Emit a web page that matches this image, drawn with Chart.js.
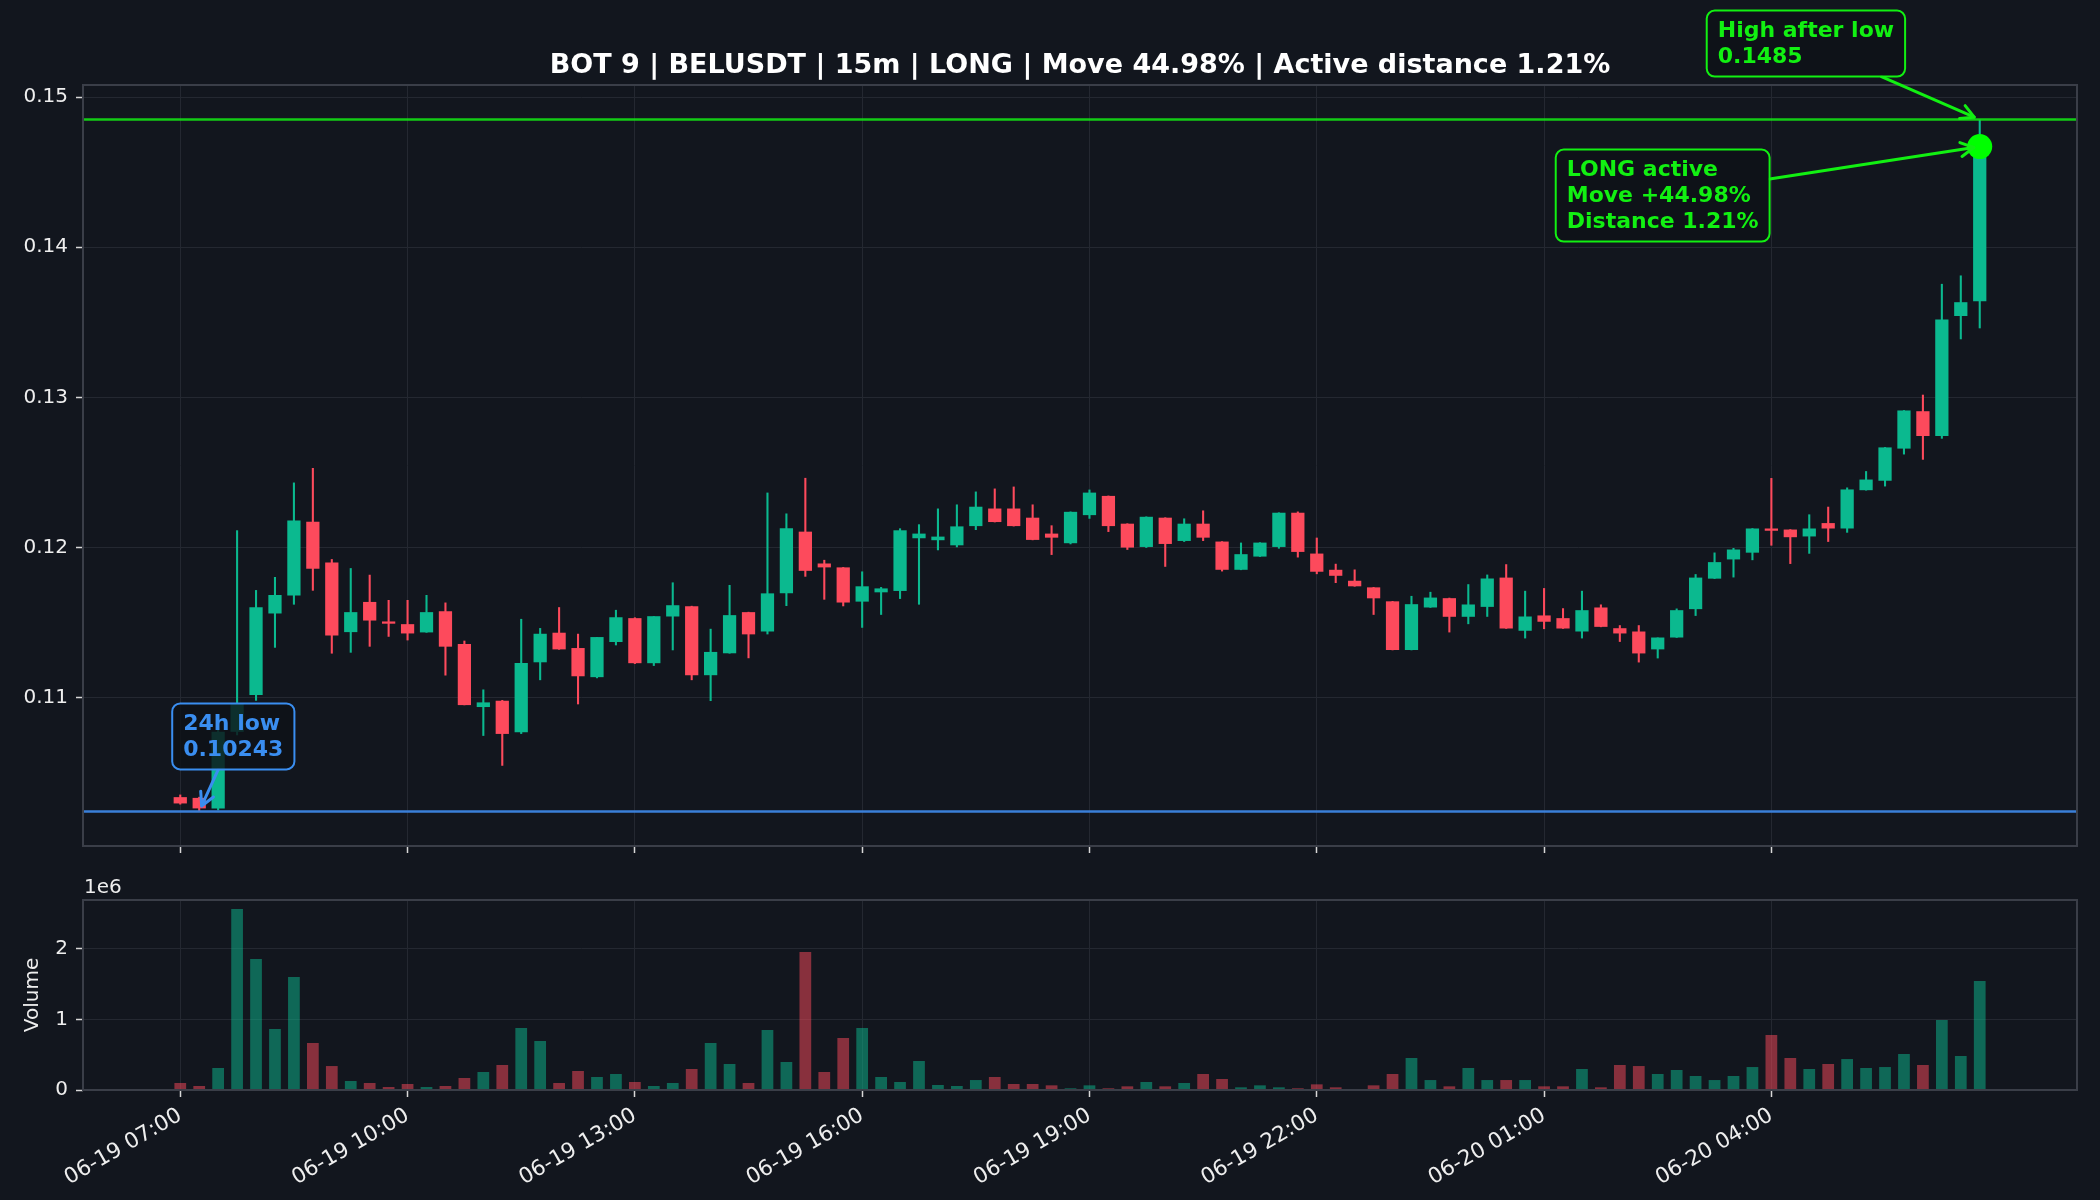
<!DOCTYPE html>
<html><head><meta charset="utf-8">
<script src="https://cdn.jsdelivr.net/npm/chart.js@4.4.1/dist/chart.umd.min.js"></script>
<style>
html,body{margin:0;padding:0;background:#12161e;}
#wrap{position:relative;width:2100px;height:1200px;background:#12161e;overflow:hidden;}
#c1{position:absolute;left:0;top:0;width:2100px;height:870px;}
#c2{position:absolute;left:0;top:860px;width:2100px;height:340px;}
</style></head><body>
<div id="wrap"><canvas id="c1" width="2100" height="870"></canvas><canvas id="c2" width="2100" height="340"></canvas></div>
<script>
// ---------------- data ----------------
const TITLE = "BOT 9 | BELUSDT | 15m | LONG | Move 44.98% | Active distance 1.21%";
const tickIndex = [0, 12, 24, 36, 48, 60, 72, 84];
const timeLabels = ["06-19 07:00","06-19 10:00","06-19 13:00","06-19 16:00","06-19 19:00","06-19 22:00","06-20 01:00","06-20 04:00"];
const priceTicks = [0.11, 0.12, 0.13, 0.14, 0.15];
const priceTickLabels = ["0.11","0.12","0.13","0.14","0.15"];
const volTicks = [0, 1e6, 2e6];
const volTickLabels = ["0","1","2"];
const lowLevel = 0.10243;
const highLevel = 0.1485;
const lowText = ["24h low", "0.10243"];
const highText = ["High after low", "0.1485"];
const activeText = ["LONG active", "Move +44.98%", "Distance 1.21%"];

const opens = [0.10338,0.10333,0.10263,0.10773,0.11018,0.11561,0.11680,0.12172,0.11901,0.11437,
0.11638,0.11508,0.11490,0.11435,0.11576,0.11358,0.10938,0.10980,0.10770,0.11236,
0.11433,0.11331,0.11137,0.11371,0.11530,0.11230,0.11541,0.11610,0.11150,0.11296,
0.11570,0.11441,0.11695,0.12106,0.11894,0.11868,0.11640,0.11702,0.11711,0.12062,
0.12049,0.12015,0.12143,0.12260,0.12260,0.12199,0.12093,0.12029,0.12216,0.12344,
0.12159,0.12004,0.12199,0.12044,0.12159,0.12040,0.11852,0.11940,0.12004,0.12232,
0.11960,0.11852,0.11779,0.11735,0.11642,0.11318,0.11601,0.11663,0.11539,0.11605,
0.11800,0.11446,0.11548,0.11530,0.11441,0.11601,0.11463,0.11441,0.11322,0.11401,
0.11590,0.11793,0.11921,0.11966,0.12127,0.12120,0.12074,0.12163,0.12127,0.12382,
0.12445,0.12659,0.12908,0.12743,0.13542,0.13641];
const highs = [0.10355,0.10340,0.10800,0.12115,0.11717,0.11804,0.12433,0.12530,0.11923,0.11863,
0.11819,0.11651,0.11651,0.11684,0.11634,0.11380,0.11055,0.10985,0.11525,0.11464,
0.11603,0.11426,0.11404,0.11585,0.11535,0.11543,0.11768,0.11612,0.11459,0.11751,
0.11572,0.12366,0.12227,0.12464,0.11918,0.11870,0.11841,0.11737,0.12128,0.12155,
0.12260,0.12287,0.12373,0.12393,0.12406,0.12287,0.12148,0.12240,0.12386,0.12346,
0.12161,0.12207,0.12201,0.12194,0.12247,0.12042,0.12033,0.12035,0.12234,0.12240,
0.12066,0.11892,0.11854,0.11737,0.11644,0.11678,0.11705,0.11666,0.11756,0.11820,
0.11889,0.11712,0.11730,0.11596,0.11712,0.11621,0.11483,0.11483,0.11401,0.11594,
0.11823,0.11967,0.11997,0.12129,0.12463,0.12122,0.12221,0.12272,0.12400,0.12509,
0.12669,0.12915,0.13018,0.13756,0.13812,0.14850];
const lows = [0.10289,0.10243,0.10250,0.10750,0.10980,0.11333,0.11620,0.11713,0.11294,0.11300,
0.11340,0.11406,0.11382,0.11433,0.11148,0.10950,0.10746,0.10547,0.10759,0.11117,
0.11320,0.10956,0.11130,0.11349,0.11225,0.11212,0.11316,0.11117,0.10978,0.11294,
0.11263,0.11422,0.11611,0.11806,0.11653,0.11609,0.11466,0.11552,0.11658,0.11620,
0.11982,0.12002,0.12117,0.12168,0.12141,0.12049,0.11951,0.12022,0.12192,0.12104,
0.11985,0.11998,0.11872,0.12038,0.12044,0.11841,0.11850,0.11938,0.11993,0.11934,
0.11823,0.11764,0.11740,0.11552,0.11316,0.11316,0.11599,0.11435,0.11490,0.11539,
0.11459,0.11395,0.11457,0.11459,0.11395,0.11470,0.11372,0.11235,0.11262,0.11399,
0.11545,0.11791,0.11801,0.11916,0.12013,0.11891,0.11959,0.12038,0.12099,0.12380,
0.12407,0.12620,0.12585,0.12725,0.13387,0.13460];
const closes = [0.10296,0.10263,0.10773,0.10960,0.11603,0.11684,0.12181,0.11859,0.11415,0.11570,
0.11514,0.11493,0.11428,0.11570,0.11340,0.10951,0.10969,0.10759,0.11232,0.11426,
0.11322,0.11143,0.11404,0.11536,0.11230,0.11543,0.11616,0.11150,0.11305,0.11550,
0.11422,0.11695,0.12128,0.11845,0.11868,0.11634,0.11742,0.11728,0.12115,0.12093,
0.12073,0.12141,0.12272,0.12170,0.12143,0.12051,0.12066,0.12238,0.12366,0.12143,
0.12000,0.12205,0.12024,0.12159,0.12066,0.11852,0.11956,0.12033,0.12232,0.11971,
0.11839,0.11812,0.11742,0.11662,0.11318,0.11623,0.11667,0.11539,0.11621,0.11794,
0.11461,0.11541,0.11506,0.11461,0.11583,0.11472,0.11428,0.11295,0.11401,0.11583,
0.11800,0.11903,0.11987,0.12127,0.12112,0.12069,0.12127,0.12127,0.12387,0.12453,
0.12667,0.12913,0.12743,0.13519,0.13634,0.14670];
const volumes = [99000,57000,311000,2560000,1853000,863000,1598000,665000,339000,127000,
99000,42000,85000,42000,57000,170000,255000,354000,877000,693000,
99000,269000,184000,226000,113000,57000,99000,297000,665000,368000,
99000,849000,396000,1952000,255000,736000,877000,184000,113000,410000,
71000,57000,141000,184000,85000,85000,66000,24000,66000,24000,
52000,113000,52000,99000,226000,156000,38000,66000,38000,24000,
80000,38000,6000,66000,226000,453000,141000,52000,311000,141000,
141000,141000,52000,52000,297000,38000,354000,339000,226000,283000,
198000,141000,198000,325000,778000,453000,297000,368000,438000,311000,
325000,509000,354000,990000,481000,1542000];

// ---------------- styling ----------------
const FONT = '"DejaVu Sans", "Liberation Sans", sans-serif';
const UP = '#0bb98f', DOWN = '#fd4a5c';
const UP_VOL = 'rgba(11,185,143,0.5)', DOWN_VOL = 'rgba(253,74,92,0.5)';
const GRID = '#242831', SPINE = '#3a3e48', TICKC = '#d8d8d8', TXT = '#eeeeee';
const BLUE = '#3a8ef0', BLUE_LINE = '#3a7fd8', GREEN = '#12f012', GREEN_LINE = 'rgba(20,235,20,0.85)';

const idx = opens.map((_, i) => i);
const up = idx.map(i => closes[i] >= opens[i]);
const nLast = opens.length - 1;
const halfBody = 0.35;
const span = (nLast + halfBody) - (-halfBody);
const xMin = -halfBody - 0.05 * span, xMax = nLast + halfBody + 0.05 * span;
const pMin = Math.min(...lows), pMax = Math.max(...highs);
const yMin = pMin - 0.05 * (pMax - pMin), yMax = pMax + 0.05 * (pMax - pMin);
const vMax = Math.max(...volumes) * 1.05;
const lowIdx = lows.indexOf(pMin), highIdx = highs.indexOf(pMax);

const tickFont = {family: FONT, size: 20};
const xTickFont = {family: FONT, size: 21.5};

const framePlugin = {
  id: 'frame',
  afterDraw(chart) {
    const {ctx, chartArea: a} = chart;
    ctx.save(); ctx.strokeStyle = SPINE; ctx.lineWidth = 2;
    ctx.strokeRect(a.left, a.top, a.right - a.left, a.bottom - a.top);
    ctx.restore();
  }
};

const levelPlugin = {
  id: 'levels',
  afterDatasetsDraw(chart) {
    const {ctx, chartArea: a, scales: {y}} = chart;
    ctx.save();
    ctx.lineWidth = 2.5;
    [[highLevel, GREEN_LINE], [lowLevel, BLUE_LINE]].forEach(([v, col]) => {
      const py = y.getPixelForValue(v);
      ctx.strokeStyle = col; ctx.beginPath(); ctx.moveTo(a.left, py); ctx.lineTo(a.right, py); ctx.stroke();
    });
    ctx.restore();
  }
};

function drawAnnotation(ctx, lines, color, tx, ty, dx, dy) {
  const font = 'bold 22px ' + FONT, lineH = 26, padX = 11, padY = 7;
  ctx.save();
  ctx.font = font;
  const w = Math.max(...lines.map(l => ctx.measureText(l).width)) + 2 * padX;
  const h = lines.length * lineH + 2 * padY;
  const bx = tx + dx, by = ty + dy;
  // arrow from box centre towards target, clipped at box edge
  const cx = bx + w / 2, cy = by + h / 2;
  const vx = tx - cx, vy = ty - cy;
  const tEdge = Math.min(Math.abs((w / 2) / (vx || 1e-9)), Math.abs((h / 2) / (vy || 1e-9)));
  const sx = cx + vx * tEdge, sy = cy + vy * tEdge;
  const len = Math.hypot(tx - sx, ty - sy);
  const ux = (tx - sx) / len, uy = (ty - sy) / len;
  const ex = tx - ux * 6, ey = ty - uy * 6;
  ctx.strokeStyle = color; ctx.lineWidth = 3; ctx.lineCap = 'round'; ctx.lineJoin = 'round';
  ctx.beginPath(); ctx.moveTo(sx, sy); ctx.lineTo(ex, ey); ctx.stroke();
  const hl = 13, hw = 7;
  ctx.beginPath();
  ctx.moveTo(ex - ux * hl - uy * hw, ey - uy * hl + ux * hw);
  ctx.lineTo(ex, ey);
  ctx.lineTo(ex - ux * hl + uy * hw, ey - uy * hl - ux * hw);
  ctx.stroke();
  // box
  ctx.fillStyle = 'rgba(14,17,23,0.82)';
  ctx.lineWidth = 2;
  ctx.beginPath(); ctx.roundRect(bx, by, w, h, 8); ctx.fill(); ctx.stroke();
  ctx.fillStyle = color; ctx.textAlign = 'left'; ctx.textBaseline = 'middle';
  lines.forEach((l, k) => ctx.fillText(l, bx + padX, by + padY + lineH * (k + 0.5) + 1));
  ctx.restore();
}

const annotPlugin = {
  id: 'annot',
  afterDraw(chart) {
    const {ctx, scales: {x, y}} = chart;
    const lx = x.getPixelForValue(lowIdx), ly = y.getPixelForValue(lowLevel);
    drawAnnotation(ctx, lowText, BLUE, lx, ly, -27, -108);
    const hx = x.getPixelForValue(highIdx), hy = y.getPixelForValue(highLevel);
    drawAnnotation(ctx, highText, GREEN, hx, hy, -273, -109);
    const cy = y.getPixelForValue(closes[nLast]);
    drawAnnotation(ctx, activeText, GREEN, hx, cy, -424, 3);
  }
};

const xScaleBase = {
  type: 'linear', min: xMin, max: xMax, offset: false,
  afterBuildTicks: s => { s.ticks = tickIndex.map(v => ({value: v})); },
  grid: {color: GRID, lineWidth: 1, offset: false, tickColor: TICKC, tickLength: 7, tickWidth: 1.5},
  border: {display: false}
};

new Chart(document.getElementById('c1'), {
  type: 'bar',
  data: {
    datasets: [
      {type: 'line', data: [{x: nLast, y: closes[nLast]}], showLine: false, pointRadius: 12.5,
       pointBackgroundColor: '#00ff00', pointBorderWidth: 0, order: 0},
      {data: idx.map(i => ({x: i, y: [opens[i], closes[i]]})), backgroundColor: idx.map(i => up[i] ? UP : DOWN),
       grouped: false, barPercentage: 0.7, categoryPercentage: 1, borderWidth: 0, minBarLength: 2, order: 1},
      {data: idx.map(i => ({x: i, y: [lows[i], highs[i]]})), backgroundColor: idx.map(i => up[i] ? UP : DOWN),
       grouped: false, barPercentage: 0.11, categoryPercentage: 1, borderWidth: 0, order: 2}
    ]
  },
  options: {
    responsive: false, animation: false,
    layout: {padding: {left: 0, right: 23, top: 0, bottom: 0}},
    plugins: {
      legend: {display: false}, tooltip: {enabled: false},
      title: {display: true, fullSize: false, text: TITLE, color: '#ffffff',
              font: {family: FONT, size: 27, weight: 'bold'}, padding: {top: 49.5, bottom: 3.1}}
    },
    scales: {
      x: Object.assign({}, xScaleBase, {ticks: {display: false}, afterFit: s => { s.height = 24; }}),
      y: {
        min: yMin, max: yMax,
        afterBuildTicks: s => { s.ticks = priceTicks.map(v => ({value: v})); },
        ticks: {color: TXT, font: tickFont, padding: 8, callback: (v) => priceTickLabels[priceTicks.findIndex(p => Math.abs(p - v) < 1e-9)]},
        grid: {color: GRID, lineWidth: 1, tickColor: TICKC, tickLength: 7, tickWidth: 1.5},
        border: {display: false},
        afterFit: s => { s.width = 83; }
      }
    }
  },
  plugins: [framePlugin, levelPlugin, annotPlugin]
});

const offsetTextPlugin = {
  id: 'offsetText',
  afterDraw(chart) {
    const {ctx, chartArea: a} = chart;
    ctx.save(); ctx.fillStyle = TXT; ctx.font = '20px ' + FONT; ctx.textAlign = 'left'; ctx.textBaseline = 'alphabetic';
    ctx.fillText('1e6', a.left + 1, a.top - 7);
    ctx.restore();
  }
};

new Chart(document.getElementById('c2'), {
  type: 'bar',
  data: {
    datasets: [{
      data: idx.map(i => ({x: i, y: volumes[i]})), backgroundColor: idx.map(i => up[i] ? UP_VOL : DOWN_VOL),
      grouped: false, barPercentage: 0.62, categoryPercentage: 1, borderWidth: 0
    }]
  },
  options: {
    responsive: false, animation: false,
    layout: {padding: {left: 0, right: 23, top: 40, bottom: 0}},
    plugins: {legend: {display: false}, tooltip: {enabled: false}},
    scales: {
      x: Object.assign({}, xScaleBase, {
        ticks: {display: true, color: TXT, font: xTickFont, padding: 6, autoSkip: false, minRotation: 30, maxRotation: 30,
                callback: (v) => timeLabels[tickIndex.indexOf(v)]},
        afterFit: s => { s.height = 110; }
      }),
      y: {
        min: 0, max: vMax,
        afterBuildTicks: s => { s.ticks = volTicks.map(v => ({value: v})); },
        ticks: {color: TXT, font: tickFont, padding: 8, callback: (v) => volTickLabels[volTicks.indexOf(v)]},
        grid: {color: GRID, lineWidth: 1, tickColor: TICKC, tickLength: 7, tickWidth: 1.5},
        border: {display: false},
        title: {display: true, text: 'Volume', color: TXT, font: {family: FONT, size: 20}, padding: {top: 21, bottom: 0}},
        afterFit: s => { s.width = 83; }
      }
    }
  },
  plugins: [framePlugin, offsetTextPlugin]
});
</script>
</body></html>
